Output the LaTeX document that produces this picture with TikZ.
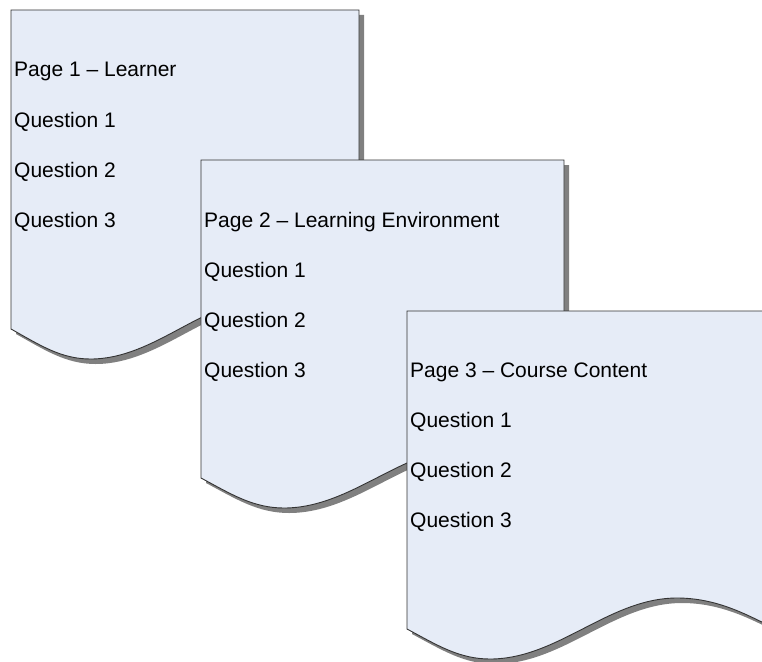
\documentclass[tikz,border=0pt]{standalone}
\usepackage{fontspec}
\setmainfont{Liberation Sans}
\definecolor{docfill}{HTML}{E6ECF7}
\definecolor{docline}{HTML}{333333}
\definecolor{docshadow}{HTML}{808080}
\newcommand\drawdoc[4]{%
  \begin{scope}[shift={(#1,#2)}]
    \pgfmathsetmacro\ds{#3/363}
    \fill[docshade,shift={(5,5)}] (0,0) -- (0,#4)
      .. controls (30*\ds,#4+16) and (52*\ds,#4+30) .. (83*\ds,#4+30)
      .. controls (151*\ds,#4+30) and (202*\ds,#4-31) .. (270*\ds,#4-31)
      .. controls (310*\ds,#4-31) and (340*\ds,#4-14) .. (#3,#4-3)
      -- (#3,0) -- cycle;
    \draw[docbody] (0,0) -- (0,#4)
      .. controls (30*\ds,#4+16) and (52*\ds,#4+30) .. (83*\ds,#4+30)
      .. controls (151*\ds,#4+30) and (202*\ds,#4-31) .. (270*\ds,#4-31)
      .. controls (310*\ds,#4-31) and (340*\ds,#4-14) .. (#3,#4-3)
      -- (#3,0) -- cycle;
  \end{scope}}
\begin{document}
\begin{tikzpicture}[x=1pt,y=-1pt,
  docbody/.style={fill=docfill, draw=docline, line width=0.9pt, line join=miter},
  docshade/.style={fill=docshadow},
  lbl/.style={anchor=base west, inner sep=0pt, font=\fontsize{21}{25}\selectfont, text=black}]
\useasboundingbox (0,0) rectangle (762,661);
% Page 1
\drawdoc{11}{10}{348}{319}
\node[lbl] (p1t) at (14,77) {Page 1 – Learner};
\node[lbl] (p1q1) at (14,127) {Question 1};
\node[lbl] (p1q2) at (14,177) {Question 2};
\node[lbl] (p1q3) at (14,227) {Question 3};
% Page 2
\drawdoc{201}{160}{363}{318}
\node[lbl] (p2t) at (204,227) {Page 2 – Learning Environment};
\node[lbl] (p2q1) at (204,277) {Question 1};
\node[lbl] (p2q2) at (204,327) {Question 2};
\node[lbl] (p2q3) at (204,377) {Question 3};
% Page 3
\drawdoc{407}{311}{363}{318}
\node[lbl] (p3t) at (410,377) {Page 3 – Course Content};
\node[lbl] (p3q1) at (410,427) {Question 1};
\node[lbl] (p3q2) at (410,477) {Question 2};
\node[lbl] (p3q3) at (410,527) {Question 3};
\end{tikzpicture}
\end{document}
